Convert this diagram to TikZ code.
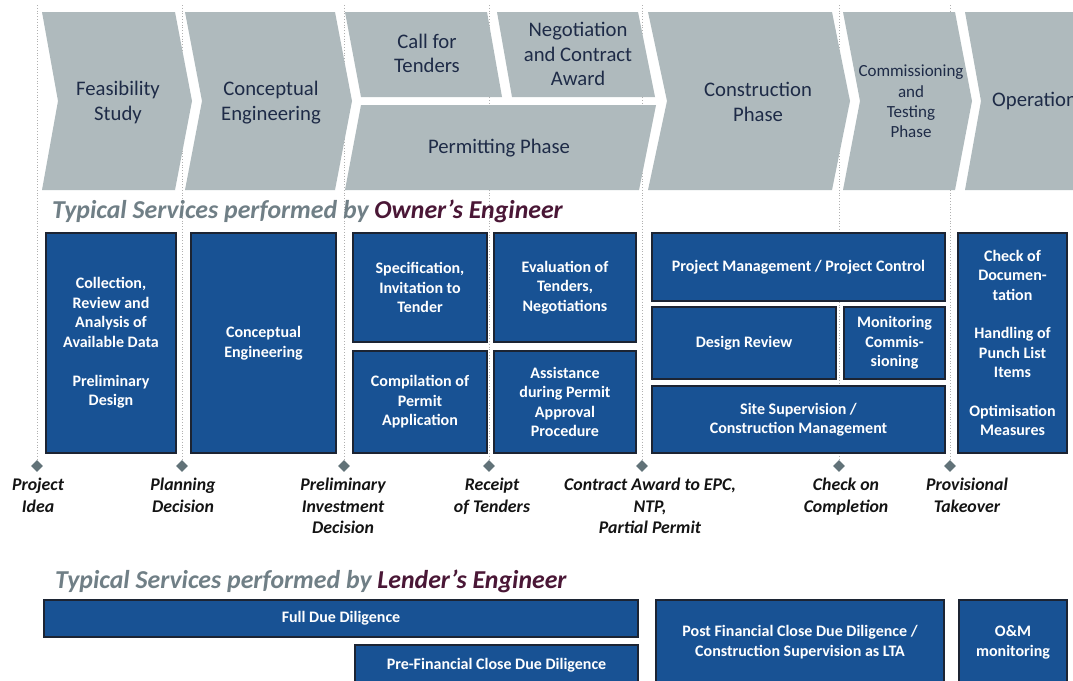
\documentclass[tikz,border=0pt]{standalone}
\usepackage{fontspec}
\setmainfont{Carlito}
\usetikzlibrary{shapes.geometric}
\definecolor{chev}{HTML}{AFBABD}
\definecolor{chevtext}{HTML}{1E2B47}
\definecolor{boxblue}{HTML}{185294}
\definecolor{boxline}{HTML}{1C2433}
\definecolor{msgray}{HTML}{617278}
\definecolor{headgray}{HTML}{707F86}
\definecolor{plum}{HTML}{4A1736}
\definecolor{dotgray}{HTML}{B0B0B0}
\pgfdeclarelayer{back}
\pgfdeclarelayer{bg}
\pgfsetlayers{back,bg,main}
\begin{document}
\begin{tikzpicture}[x=1pt,y=-1pt,
  chevshape/.style={fill=chev},
  chevtxt/.style={text=chevtext, align=center, inner sep=0, font=\fontsize{20.7}{24.5}\selectfont},
  svc/.style={draw=boxline, line width=1.2pt, fill=boxblue, text=white, align=center, inner sep=0, font=\bfseries\fontsize{16}{19.5}\selectfont},
  lsvc/.style={svc, font=\bfseries\fontsize{16}{20}\selectfont},
  ms/.style={diamond, fill=msgray, inner sep=0, minimum width=12pt, minimum height=12pt},
  mslabel/.style={font=\bfseries\itshape\fontsize{17.8}{21.5}\selectfont, align=center, inner sep=0, anchor=north, text=black!92},
  dotline/.style={draw=dotgray, dotted, line width=0.8pt},
  heading/.style={font=\bfseries\itshape\fontsize{25.8}{29}\selectfont, text=headgray, anchor=west, inner sep=0}
]
\clip (0,0) rectangle (1073,680);
\begin{pgfonlayer}{back}
\fill[white] (0,0) rectangle (1073,680);
\end{pgfonlayer}

% ---- phase chevrons
\fill[chevshape] (42,12) -- (175,12) -- (192,101) -- (175,190) -- (42,190) -- (58,101) -- cycle;
\fill[chevshape] (185,12) -- (335,12) -- (352,101) -- (335,190) -- (185,190) -- (202,101) -- cycle;
\fill[chevshape] (345,12) -- (487,12) -- (502,97) -- (361,97) -- cycle;
\fill[chevshape] (497,12) -- (638,12) -- (655,97) -- (512,97) -- cycle;
\fill[chevshape] (361,105) -- (656,105) -- (639,190) -- (345,190) -- cycle;
\fill[chevshape] (648,12) -- (832,12) -- (850,101) -- (832,190) -- (648,190) -- (667,101) -- cycle;
\fill[chevshape] (843,12) -- (955,12) -- (972,101) -- (955,190) -- (843,190) -- (860,101) -- cycle;
\fill[chevshape] (965,12) -- (1090,12) -- (1090,190) -- (965,190) -- (981,101) -- cycle;

\node[chevtxt] (p1) at (118,102.5) {Feasibility\\Study};
\node[chevtxt] (p2) at (271,102.5) {Conceptual\\Engineering};
\node[chevtxt] (p3) at (427,53.5) {Call for\\Tenders};
\node[chevtxt] (p4) at (578,54) {Negotiation\\and Contract\\Award};
\node[chevtxt] (p5) at (499,148) {Permitting Phase};
\node[chevtxt] (p6) at (758,102) {Construction\\Phase};
\node[chevtxt, font=\fontsize{17}{20.3}\selectfont] (p7) at (911,101.5) {Commissioning\\and\\Testing\\Phase};
\node[chevtxt, anchor=west] (p8) at (992,101) {Operation};

% ---- owner's engineer heading
\node[heading] (oh) at (52,211) {Typical Services performed by \textcolor{plum}{Owner’s Engineer}};

% ---- owner's engineer services
\node[svc, minimum width=130pt, minimum height=220pt] (b1) at (111,343) {Collection,\\Review and\\Analysis of\\Available Data\\[19.5pt]Preliminary\\Design};
\node[svc, minimum width=145pt, minimum height=220pt] (b2) at (263.5,343) {Conceptual\\Engineering};
\node[svc, minimum width=134pt, minimum height=109pt] (b3) at (420,287.5) {Specification,\\Invitation to\\Tender};
\node[svc, minimum width=142pt, minimum height=109pt] (b4) at (565,287.5) {Evaluation of\\Tenders,\\Negotiations};
\node[svc, minimum width=134pt, minimum height=102pt] (b5) at (420,402) {Compilation of\\Permit\\Application};
\node[svc, minimum width=142pt, minimum height=102pt] (b6) at (565,402) {Assistance\\during Permit\\Approval\\Procedure};
\node[svc, minimum width=293pt, minimum height=68pt] (b7) at (798.5,267) {Project Management / Project Control};
\node[svc, minimum width=184pt, minimum height=72pt] (b8) at (744,343) {Design Review};
\node[svc, minimum width=101pt, minimum height=72pt] (b9) at (894.5,343) {Monitoring\\Commis-\\sioning};
\node[svc, minimum width=293pt, minimum height=67pt] (b10) at (798.5,419.5) {Site Supervision /\\Construction Management};
\node[svc, minimum width=109pt, minimum height=220pt] (b11) at (1012.5,343) {Check of\\Documen-\\tation\\[19pt]Handling of\\Punch List\\Items\\[19pt]Optimisation\\Measures};

% ---- milestones
\node[ms] (m1) at (37,466) {};
\node[ms] (m2) at (182,466) {};
\node[ms] (m3) at (344,466) {};
\node[ms] (m4) at (489,466) {};
\node[ms] (m5) at (642,466) {};
\node[ms] (m6) at (839,466) {};
\node[ms] (m7) at (950,466) {};
\coordinate (t1) at (37,5);
\coordinate (t2) at (182,5);
\coordinate (t3) at (344,5);
\coordinate (t4) at (489,5);
\coordinate (t5) at (642,5);
\coordinate (t6) at (839,5);
\coordinate (t7) at (950,5);
\begin{pgfonlayer}{bg}
\foreach \i in {1,...,7} {\draw[dotline] (t\i) -- (m\i.north);}
\end{pgfonlayer}

\node[mslabel] (l1) at (38,478) {Project\\Idea};
\node[mslabel] (l2) at (183,478) {Planning\\Decision};
\node[mslabel] (l3) at (343,478) {Preliminary\\Investment\\Decision};
\node[mslabel] (l4) at (492,478) {Receipt\\of Tenders};
\node[mslabel] (l5) at (650,478) {Contract Award to EPC,\\NTP,\\Partial Permit};
\node[mslabel] (l6) at (846,478) {Check on\\Completion};
\node[mslabel] (l7) at (967,478) {Provisional\\Takeover};

% ---- lender's engineer
\node[heading] (lh) at (55,581) {Typical Services performed by \textcolor{plum}{Lender’s Engineer}};
\node[lsvc, minimum width=594pt, minimum height=37pt] (f1) at (341,618.5) {Full Due Diligence};
\node[lsvc, minimum width=283pt, minimum height=40pt] (f2) at (496.5,665) {Pre-Financial Close Due Diligence};
\node[lsvc, minimum width=288pt, minimum height=84pt] (f3) at (800,642) {Post Financial Close Due Diligence /\\Construction Supervision as LTA};
\node[lsvc, minimum width=108pt, minimum height=84pt] (f4) at (1013,642) {O\&M\\monitoring};
\end{tikzpicture}
\end{document}
